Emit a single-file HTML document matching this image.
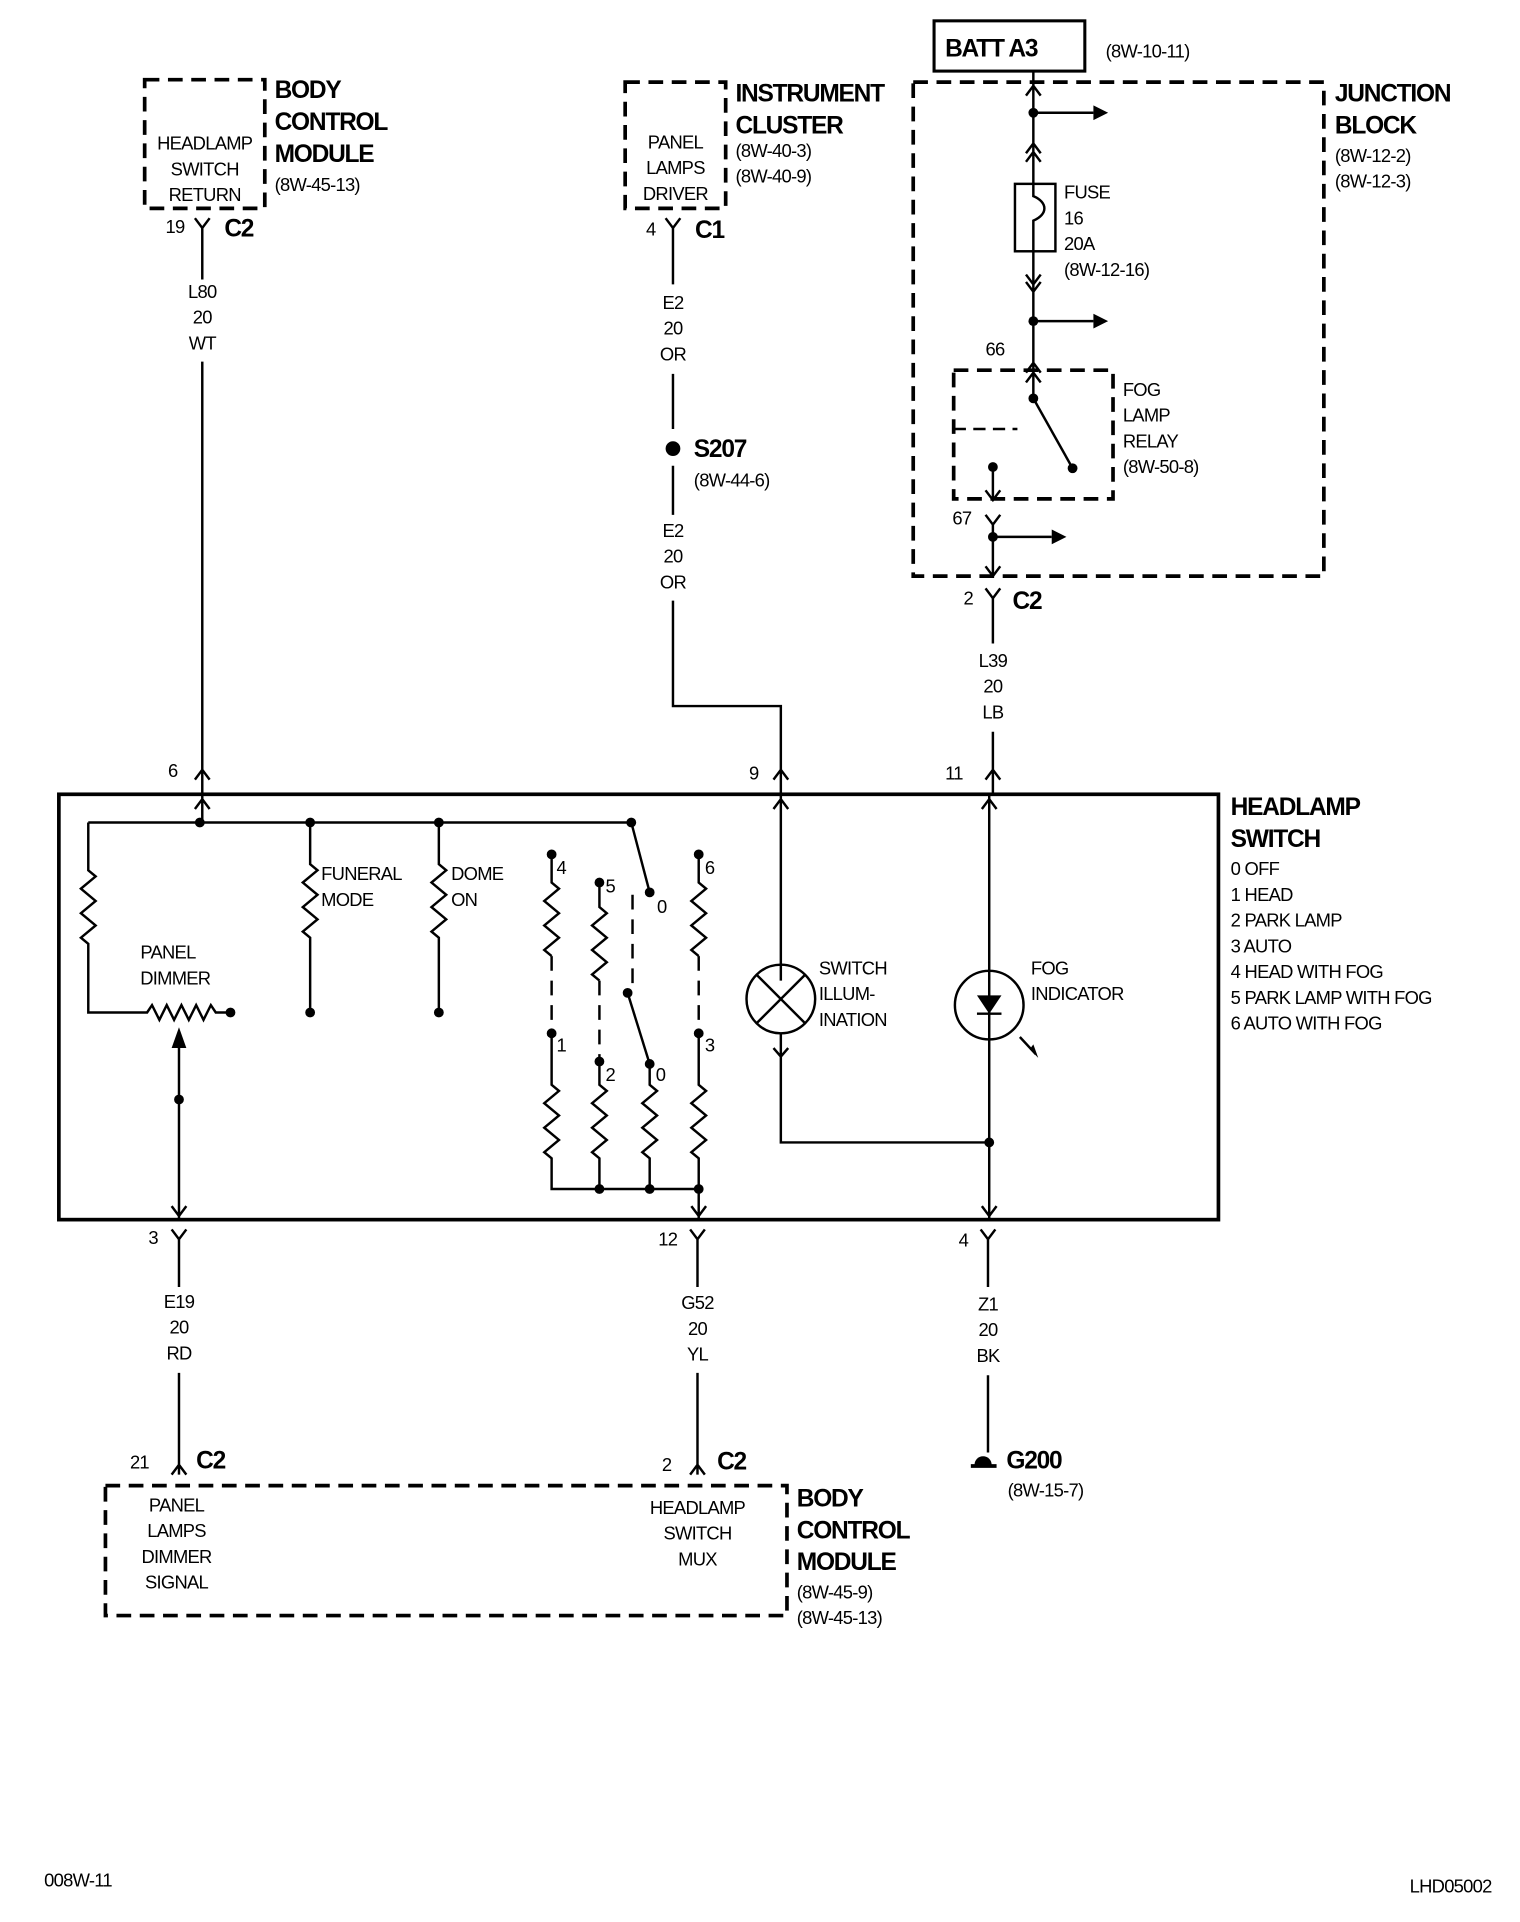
<!DOCTYPE html>
<html><head><meta charset="utf-8"><style>
html,body{margin:0;padding:0;background:#fff}
svg{display:block}
text{font-family:"Liberation Sans Narrow","Liberation Sans",sans-serif;font-size:15px;fill:#000;letter-spacing:-0.6px}
.b{font-weight:bold;font-size:20px;letter-spacing:-1px}
.c{text-anchor:middle}
</style></head><body>
<svg width="1520" height="1922" viewBox="0 0 1240 1568" xmlns="http://www.w3.org/2000/svg">
<g fill="none" stroke="#000" stroke-width="2">
<g stroke-dasharray="12,7" stroke-width="3">
<rect x="118" y="65" width="98" height="105"/>
<rect x="510" y="67" width="82" height="103"/>
<rect x="745" y="67" width="335" height="403"/>
<rect x="778" y="302" width="130" height="105"/>
<rect x="86" y="1212" width="556" height="106"/>
</g>
<path d="M778 350 H830" stroke-dasharray="10,6"/>
<rect x="762" y="17" width="123" height="41" stroke-width="2.5"/>
<rect x="48" y="648" width="946" height="347" stroke-width="3"/>
<path d="M159 178 L165 186 L171 178 M165 186 V228 M165 295 V648 M159 636 L165 628 L171 636"/>
<path d="M543 178 L549 186 L555 178 M549 186 V232 M549 305 V350 M549 380 V420 M549 490 V576 H637 V800 M631 636 L637 628 L643 636 M631 660 L637 652 L643 660"/>
<path d="M843 58 V325 M837 78 L843 70 L849 78 M837 125 L843 117 L849 125 M837 132 L843 124 L849 132 M837 224 L843 232 L849 224 M837 230 L843 238 L849 230 M837 304 L843 296 L849 304 M837 312 L843 304 L849 312"/>
<path d="M843 92 H892 M843 262 H892 M810 438 H858"/>
<rect x="828" y="150" width="33" height="55" fill="#fff"/>
<path d="M843 150 V160 C855 165 855 175 843 180 V205"/>
<path d="M843 325 L875 382"/>
<path d="M810 381 V408 M804 400 L810 408 L816 400 M804 420 L810 428 L816 420 M810 428 V470 M804 462 L810 470 L816 462 M804 480 L810 488 L816 480 M810 488 V525 M810 597 V648 M804 636 L810 628 L816 636 M801 660 L807 652 L813 660"/>
<path d="M72 671 H515 M165 648 V671 M159 660 L165 652 L171 660"/>
<path d="M72 671 V710 l6 5 l-12 10 l12 10 l-12 10 l12 10 l-12 10 l6 5 V826 H120 l4 -6 l6 12 l6 -12 l6 12 l6 -12 l6 12 l6 -12 l6 12 l6 -12 l4 6 H188"/>
<path d="M146 855 V995 M140 984 L146 992 L152 984"/>
<path d="M253 671 V705 l6 5 l-12 10 l12 10 l-12 10 l12 10 l-12 10 l6 5 V826"/>
<path d="M358 671 V705 l6 5 l-12 10 l12 10 l-12 10 l12 10 l-12 10 l6 5 V826"/>
<path d="M515 671 L530 728"/>
<path d="M450 697 V720 l6 5 l-12 10 l12 10 l-12 10 l12 10 l-12 10 l6 5 V780"/>
<path d="M489 720 V740 l6 5 l-12 10 l12 10 l-12 10 l12 10 l-12 10 l6 5 V800"/>
<path d="M570 697 V720 l6 5 l-12 10 l12 10 l-12 10 l12 10 l-12 10 l6 5 V780"/>
<g stroke-dasharray="12,8"><path d="M450 780 V843 M489 800 V866 M570 780 V843 M516 730 V805"/></g>
<path d="M512 810 L530 868"/>
<path d="M450 843 V885 l6 5 l-12 10 l12 10 l-12 10 l12 10 l-12 10 l6 5 V970 H570"/>
<path d="M489 866 V885 l6 5 l-12 10 l12 10 l-12 10 l12 10 l-12 10 l6 5 V970"/>
<path d="M530 868 V885 l6 5 l-12 10 l12 10 l-12 10 l12 10 l-12 10 l6 5 V970"/>
<path d="M570 843 V885 l6 5 l-12 10 l12 10 l-12 10 l12 10 l-12 10 l6 5 V995 M564 984 L570 992 L576 984"/>
<circle cx="637" cy="815" r="28"/>
<path d="M617 795 L657 835 M657 795 L617 835"/>
<path d="M631 855 L637 862 L643 855 M637 843 V932 H807"/>
<circle cx="807" cy="820" r="28"/>
<path d="M807 648 V995 M801 984 L807 992 L813 984 M797 827 H817 M832 846 L845 860"/>
<path d="M140 1003 L146 1011 L152 1003 M146 1011 V1050 M146 1120 V1203 M140 1203 L146 1195 L152 1203"/>
<path d="M563 1003 L569 1011 L575 1003 M569 1011 V1050 M569 1120 V1203 M563 1203 L569 1195 L575 1203"/>
<path d="M800 1003 L806 1011 L812 1003 M806 1011 V1050 M806 1122 V1185"/>
<path d="M792 1196 H813" stroke-width="3"/>
</g>
<g fill="#000">
<path d="M892 86 L904 92 L892 98Z M892 256 L904 262 L892 268Z M858 432 L870 438 L858 444Z"/>
<path d="M797 812 H817 L807 827Z"/>
<path d="M140 855 L146 838 L152 855Z"/>
<path d="M840 856 L847 863 L843 852Z"/>
<circle cx="843" cy="92" r="4"/><circle cx="843" cy="262" r="4"/><circle cx="843" cy="325" r="4"/><circle cx="875" cy="382" r="4"/><circle cx="810" cy="381" r="4"/><circle cx="810" cy="438" r="4"/>
<circle cx="549" cy="366" r="6"/>
<circle cx="163" cy="671" r="4"/><circle cx="253" cy="671" r="4"/><circle cx="358" cy="671" r="4"/><circle cx="515" cy="671" r="4"/>
<circle cx="188" cy="826" r="4"/><circle cx="253" cy="826" r="4"/><circle cx="358" cy="826" r="4"/><circle cx="146" cy="897" r="4"/>
<circle cx="530" cy="728" r="4"/><circle cx="450" cy="697" r="4"/><circle cx="489" cy="720" r="4"/><circle cx="570" cy="697" r="4"/>
<circle cx="450" cy="843" r="4"/><circle cx="489" cy="866" r="4"/><circle cx="512" cy="810" r="4"/><circle cx="530" cy="868" r="4"/><circle cx="570" cy="843" r="4"/>
<circle cx="489" cy="970" r="4"/><circle cx="530" cy="970" r="4"/><circle cx="570" cy="970" r="4"/><circle cx="807" cy="932" r="4"/>
<path d="M795 1195 a7 7 0 0 1 14 0Z"/>
</g>
<text class="c" x="167" y="122">HEADLAMP</text><text class="c" x="167" y="143">SWITCH</text><text class="c" x="167" y="164">RETURN</text>
<text class="b" x="224" y="80">BODY</text><text class="b" x="224" y="106">CONTROL</text><text class="b" x="224" y="132">MODULE</text><text x="224" y="156">(8W-45-13)</text>
<text x="135" y="190">19</text><text class="b" x="183" y="193">C2</text>
<text class="c" x="165" y="243">L80</text><text class="c" x="165" y="264">20</text><text class="c" x="165" y="285">WT</text>
<text x="137" y="634">6</text>
<text class="c" x="551" y="121">PANEL</text><text class="c" x="551" y="142">LAMPS</text><text class="c" x="551" y="163">DRIVER</text>
<text class="b" x="600" y="83">INSTRUMENT</text><text class="b" x="600" y="109">CLUSTER</text><text x="600" y="128">(8W-40-3)</text><text x="600" y="149">(8W-40-9)</text>
<text x="527" y="192">4</text><text class="b" x="567" y="194">C1</text>
<text class="c" x="549" y="252">E2</text><text class="c" x="549" y="273">20</text><text class="c" x="549" y="294">OR</text>
<text class="b" x="566" y="373">S207</text><text x="566" y="397">(8W-44-6)</text>
<text class="c" x="549" y="438">E2</text><text class="c" x="549" y="459">20</text><text class="c" x="549" y="480">OR</text>
<text x="611" y="636">9</text>
<text class="b" x="771" y="46">BATT A3</text><text x="902" y="47">(8W-10-11)</text>
<text class="b" x="1089" y="83">JUNCTION</text><text class="b" x="1089" y="109">BLOCK</text><text x="1089" y="132">(8W-12-2)</text><text x="1089" y="153">(8W-12-3)</text>
<text x="868" y="162">FUSE</text><text x="868" y="183">16</text><text x="868" y="204">20A</text><text x="868" y="225">(8W-12-16)</text>
<text x="804" y="290">66</text>
<text x="916" y="323">FOG</text><text x="916" y="344">LAMP</text><text x="916" y="365">RELAY</text><text x="916" y="386">(8W-50-8)</text>
<text x="777" y="428">67</text><text x="786" y="493">2</text><text class="b" x="826" y="497">C2</text>
<text class="c" x="810" y="544">L39</text><text class="c" x="810" y="565">20</text><text class="c" x="810" y="586">LB</text>
<text x="771" y="636">11</text>
<text class="b" x="1004" y="665">HEADLAMP</text><text class="b" x="1004" y="691">SWITCH</text>
<text x="1004" y="714">0 OFF</text><text x="1004" y="735">1 HEAD</text><text x="1004" y="756">2 PARK LAMP</text><text x="1004" y="777">3 AUTO</text><text x="1004" y="798">4 HEAD WITH FOG</text><text x="1004" y="819">5 PARK LAMP WITH FOG</text><text x="1004" y="840">6 AUTO WITH FOG</text>
<text class="c" x="137" y="782">PANEL</text><text class="c" x="143" y="803">DIMMER</text>
<text x="262" y="718">FUNERAL</text><text x="262" y="739">MODE</text><text x="368" y="718">DOME</text><text x="368" y="739">ON</text>
<text x="454" y="713">4</text><text x="494" y="728">5</text><text x="536" y="745">0</text><text x="575" y="713">6</text>
<text x="454" y="858">1</text><text x="494" y="882">2</text><text x="535" y="882">0</text><text x="575" y="858">3</text>
<text x="668" y="795">SWITCH</text><text x="668" y="816">ILLUM-</text><text x="668" y="837">INATION</text>
<text x="841" y="795">FOG</text><text x="841" y="816">INDICATOR</text>
<text x="121" y="1015">3</text><text class="c" x="146" y="1067">E19</text><text class="c" x="146" y="1088">20</text><text class="c" x="146" y="1109">RD</text>
<text x="537" y="1016">12</text><text class="c" x="569" y="1068">G52</text><text class="c" x="569" y="1089">20</text><text class="c" x="569" y="1110">YL</text>
<text x="782" y="1017">4</text><text class="c" x="806" y="1069">Z1</text><text class="c" x="806" y="1090">20</text><text class="c" x="806" y="1111">BK</text>
<text x="106" y="1198">21</text><text class="b" x="160" y="1198">C2</text><text x="540" y="1200">2</text><text class="b" x="585" y="1199">C2</text>
<text class="b" x="821" y="1198">G200</text><text x="822" y="1221">(8W-15-7)</text>
<text class="c" x="144" y="1233">PANEL</text><text class="c" x="144" y="1254">LAMPS</text><text class="c" x="144" y="1275">DIMMER</text><text class="c" x="144" y="1296">SIGNAL</text>
<text class="c" x="569" y="1235">HEADLAMP</text><text class="c" x="569" y="1256">SWITCH</text><text class="c" x="569" y="1277">MUX</text>
<text class="b" x="650" y="1229">BODY</text><text class="b" x="650" y="1255">CONTROL</text><text class="b" x="650" y="1281">MODULE</text><text x="650" y="1304">(8W-45-9)</text><text x="650" y="1325">(8W-45-13)</text>
<text x="36" y="1539">008W-11</text><text x="1150" y="1544">LHD05002</text>
</svg>
</body></html>
